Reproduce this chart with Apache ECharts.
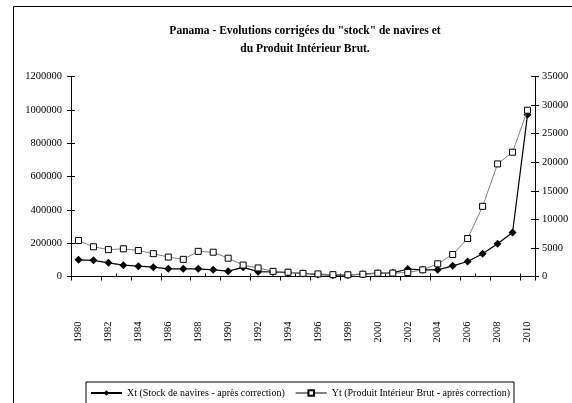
<!DOCTYPE html>
<html>
<head>
<meta charset="utf-8">
<script src="https://cdn.jsdelivr.net/npm/echarts@6/dist/echarts.min.js"></script>
<style>
  html, body { margin: 0; padding: 0; background: #fff; }
  #chart { width: 572px; height: 403px; }
</style>
</head>
<body>
<div id="chart"></div>
<script>
// années (catégories)
const years = ['1980', '1981', '1982', '1983', '1984', '1985', '1986', '1987', '1988', '1989',
  '1990', '1991', '1992', '1993', '1994', '1995', '1996', '1997', '1998', '1999',
  '2000', '2001', '2002', '2003', '2004', '2005', '2006', '2007', '2008', '2009', '2010']

// Xt : stock de navires (axe de gauche)
const stockNavires = [100000, 97000, 82000, 68000, 62000, 56000, 46000, 46000, 46000, 40000,
  32000, 55000, 29000, 27000, 24000, 18000, 12000, 8000, 9000, 14000,
  20000, 22000, 45000, 40000, 40000, 64000, 90000, 136000, 196000, 264000, 970000]

// Yt : PIB (axe de droite)
const pib = [6300, 5200, 4700, 4850, 4550, 4000, 3400, 3000, 4400, 4250,
  3200, 2000, 1500, 900, 750, 550, 450, 320, 300, 400,
  580, 600, 700, 1170, 2220, 3850, 6650, 12280, 19700, 21750, 29100]

const leftAxis = { min: 0, max: 1200000, interval: 200000 }
const rightAxis = { min: 0, max: 35000, interval: 5000 }

const serif = 'Liberation Serif'
const lineBlack = { color: '#000', width: 1 }
const plain = (v) => String(v)

const myChart = echarts.init(document.getElementById('chart'))

const option = {
  animation: false,
  textStyle: { fontFamily: serif },
  title: {
    text: 'Panama - Evolutions corrigées du "stock" de navires et\ndu Produit Intérieur Brut.',
    left: 300,
    top: 17,
    textAlign: 'center',
    textStyle: { fontFamily: serif, fontSize: 11.5, fontWeight: 'bold', color: '#000', lineHeight: 18 }
  },
  graphic: [
    {
      type: 'rect',
      shape: { x: 13.5, y: 6.5, width: 620, height: 500 },
      style: { fill: 'none', stroke: '#000', lineWidth: 1 },
      silent: true
    }
  ],
  legend: {
    left: 86,
    top: 382,
    itemWidth: 31,
    itemHeight: 7,
    itemGap: 10,
    padding: [6, 4, 6, 4],
    borderColor: '#000',
    borderWidth: 1,
    textStyle: { fontFamily: serif, fontSize: 10, color: '#000' },
    data: ['Xt (Stock de navires - après correction)', 'Yt (Produit Intérieur Brut - après correction)']
  },
  grid: {
    left: 71,
    right: 37,
    top: 76.5,
    bottom: 126.5
  },
  xAxis: [
    {
      type: 'category',
      data: years,
      boundaryGap: true,
      axisLine: { lineStyle: lineBlack },
      axisTick: { show: true, length: 4, lineStyle: lineBlack },
      axisLabel: { interval: 1, rotate: 90, margin: 45, fontSize: 10.5, color: '#000', fontFamily: serif }
    },
    {
      type: 'category',
      data: years,
      position: 'bottom',
      boundaryGap: true,
      axisLine: { show: false },
      axisTick: { show: true, inside: true, length: 3, lineStyle: lineBlack },
      axisLabel: { show: false }
    }
  ],
  yAxis: [
    {
      type: 'value',
      position: 'left',
      ...leftAxis,
      splitLine: { show: false },
      axisLine: { show: true, lineStyle: lineBlack },
      axisTick: { show: true, length: 4, lineStyle: lineBlack },
      axisLabel: { margin: 9, fontSize: 10.5, color: '#000', fontFamily: serif, formatter: plain }
    },
    {
      type: 'value',
      position: 'right',
      ...rightAxis,
      splitLine: { show: false },
      axisLine: { show: true, lineStyle: lineBlack },
      axisTick: { show: true, length: 4, lineStyle: lineBlack },
      axisLabel: { margin: 7, fontSize: 10.5, color: '#000', fontFamily: serif, formatter: plain }
    },
    {
      type: 'value',
      position: 'left',
      ...leftAxis,
      splitLine: { show: false },
      axisLine: { show: false },
      axisTick: { show: true, inside: true, length: 4, lineStyle: lineBlack },
      axisLabel: { show: false }
    },
    {
      type: 'value',
      position: 'right',
      ...rightAxis,
      splitLine: { show: false },
      axisLine: { show: false },
      axisTick: { show: true, inside: true, length: 4, lineStyle: lineBlack },
      axisLabel: { show: false }
    }
  ],
  series: [
    {
      name: 'Xt (Stock de navires - après correction)',
      type: 'line',
      yAxisIndex: 0,
      data: stockNavires,
      symbol: 'diamond',
      symbolSize: 8,
      showAllSymbol: true,
      lineStyle: { color: '#000', width: 1.2 },
      itemStyle: { color: '#000' },
      z: 3
    },
    {
      name: 'Yt (Produit Intérieur Brut - après correction)',
      type: 'line',
      yAxisIndex: 1,
      data: pib,
      symbol: 'rect',
      symbolSize: 6,
      showAllSymbol: true,
      lineStyle: { color: '#808080', width: 1 },
      itemStyle: { color: '#fff', borderColor: '#000', borderWidth: 1 },
      z: 4
    }
  ]
}

myChart.setOption(option)
</script>
</body>
</html>
